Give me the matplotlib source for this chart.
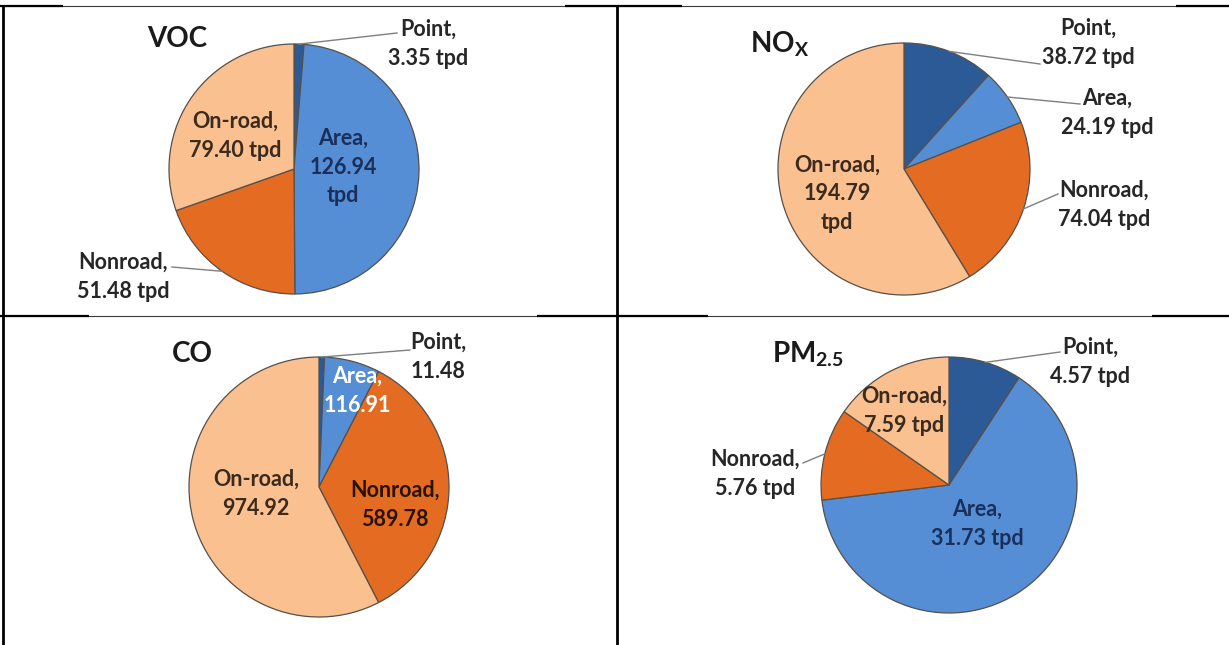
import numpy as np
import matplotlib.pyplot as plt

# Emissions by source category (tons per day)
categories = ['Point', 'Area', 'Nonroad', 'On-road']
voc = [3.35, 126.94, 51.48, 79.40]
nox = [38.72, 24.19, 74.04, 194.79]
co = [11.48, 116.91, 589.78, 974.92]
pm25 = [4.57, 31.73, 5.76, 7.59]

colors = ['#2c5a96', '#558ed5', '#e46c22', '#fac090']
dark = '#262626'
navy = '#1a2f5a'
brown = '#3b2a1e'

W, H = 1229, 645
plt.rcParams['font.family'] = ['Lato', 'DejaVu Sans']

fig = plt.figure(figsize=(W / 100, H / 100), dpi=100)

# panel layout in pixel coordinates (y downwards)
panels = [
    dict(values=voc, title='VOC', title_xy=(147, 47), center=(294, 169), r=125,
         fmt=['{c},\n{v:.2f} tpd', '{c},\n{v:.2f}\ntpd', '{c},\n{v:.2f} tpd', '{c},\n{v:.2f} tpd'],
         label_xy=[(428, 44), (343, 167), (123, 277), (235, 136)],
         leader_to=[(397, 33), None, (172, 267), None],
         text_colors=[dark, navy, dark, brown]),
    dict(values=nox, title=r'NO$_\mathregular{X}$', title_xy=(750, 52), center=(904, 169), r=126,
         fmt=['{c},\n{v:.2f} tpd', '{c},\n{v:.2f} tpd', '{c},\n{v:.2f} tpd', '{c},\n{v:.2f}\ntpd'],
         label_xy=[(1088, 43), (1107, 113), (1104, 205), (837, 194)],
         leader_to=[(1040, 64), (1080, 104), (1058, 194), None],
         text_colors=[dark, dark, dark, brown]),
    dict(values=co, title='CO', title_xy=(172, 362), center=(319, 487), r=130,
         fmt=['{c},\n{v:.2f}'] * 4,
         label_xy=[(438, 357), (357, 391), (395, 505), (256, 494)],
         leader_to=[(410, 350), None, None, None],
         text_colors=[dark, 'white', '#2b1200', brown]),
    dict(values=pm25, title=r'PM$_\mathregular{2.5}$', title_xy=(772, 362), center=(949, 485), r=128,
         fmt=['{c},\n{v:.2f} tpd'] * 4,
         label_xy=[(1090, 362), (977, 524), (755, 474), (904, 411)],
         leader_to=[(1060, 352), None, (803, 463), None],
         text_colors=[dark, navy, dark, brown]),
]

pad = 1.03
wedge_sets = []
for p in panels:
    cx, cy = p['center']
    r = p['r'] * pad
    ax = fig.add_axes([(cx - r) / W, 1 - (cy + r) / H, 2 * r / W, 2 * r / H])
    wedges, _ = ax.pie(p['values'], colors=colors, startangle=90, counterclock=False,
                       wedgeprops=dict(edgecolor='#55504a', linewidth=0.9))
    ax.set_xlim(-pad, pad)
    ax.set_ylim(-pad, pad)
    wedge_sets.append(wedges)

# overlay in pixel coordinates for the table grid, titles and labels
ov = fig.add_axes([0, 0, 1, 1])
ov.set_xlim(0, W)
ov.set_ylim(H, 0)
ov.axis('off')
ov.patch.set_alpha(0)

ov.hlines([6, 316], 0, W, color='#3a3a3a', lw=0.8)
for y, x0, x1 in [(6, 0, 63), (6, 565, 682), (6, 1176, W),
                  (316, 0, 89), (316, 537, 708), (316, 1152, W)]:
    ov.plot([x0, x1], [y, y], color='black', lw=1.6, solid_capstyle='butt')
ov.vlines([3, 617], 5, H, color='black', lw=2)

for p, wedges in zip(panels, wedge_sets):
    cx, cy = p['center']
    ov.text(*p['title_xy'], p['title'], fontsize=20, fontweight='bold',
            ha='left', va='baseline', color='#1a1a1a')
    for i, w in enumerate(wedges):
        s = p['fmt'][i].format(c=categories[i], v=p['values'][i])
        x, y = p['label_xy'][i]
        ov.text(x, y, s, fontsize=15.5, fontweight='bold', ha='center', va='center',
                multialignment='center', linespacing=1.47, color=p['text_colors'][i])
        if p['leader_to'][i] is not None:
            th = np.deg2rad((w.theta1 + w.theta2) / 2)
            sx = cx + p['r'] * np.cos(th)
            sy = cy - p['r'] * np.sin(th)
            ex, ey = p['leader_to'][i]
            ov.plot([sx, ex], [sy, ey], color='#7f7f7f', lw=1)

fig.savefig('out.png', dpi=100)
